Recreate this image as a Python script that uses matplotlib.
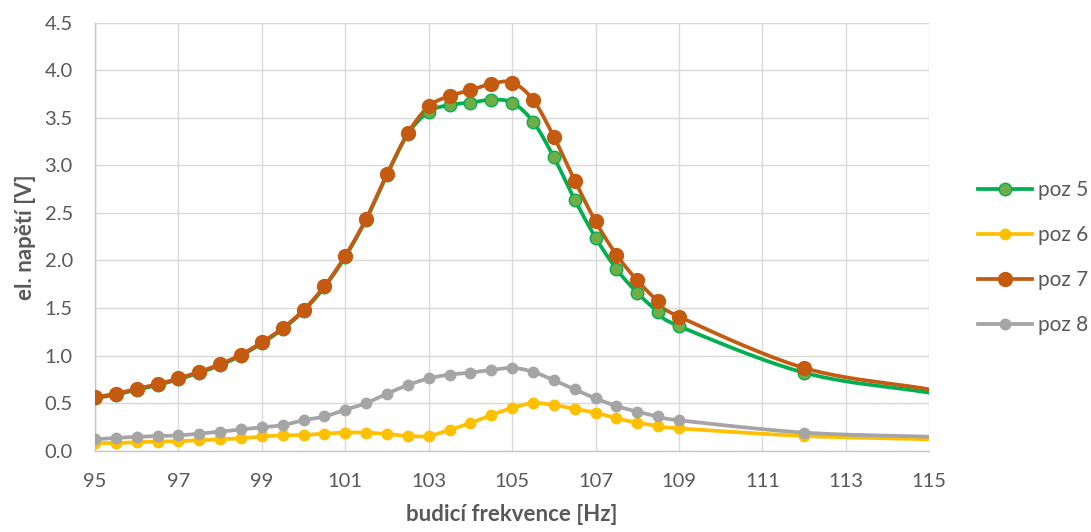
import numpy as np
import matplotlib
matplotlib.use("Agg")
import matplotlib.pyplot as plt

# budici frekvence [Hz]; last point (115) only carries the line to the edge
freq = [95, 95.5, 96, 96.5, 97, 97.5, 98, 98.5, 99, 99.5, 100, 100.5, 101,
        101.5, 102, 102.5, 103, 103.5, 104, 104.5, 105, 105.5, 106, 106.5,
        107, 107.5, 108, 108.5, 109, 112, 115]

poz5 = [0.55, 0.59, 0.64, 0.69, 0.75, 0.82, 0.90, 1.00, 1.13, 1.28, 1.47,
        1.72, 2.04, 2.43, 2.90, 3.33, 3.565, 3.635, 3.66, 3.69, 3.66, 3.46,
        3.085, 2.64, 2.24, 1.91, 1.66, 1.46, 1.31, 0.82, 0.61]
poz6 = [0.08, 0.08, 0.09, 0.095, 0.10, 0.11, 0.12, 0.13, 0.15, 0.16, 0.165,
        0.18, 0.19, 0.19, 0.175, 0.155, 0.155, 0.22, 0.29, 0.375, 0.45, 0.50,
        0.48, 0.44, 0.40, 0.34, 0.295, 0.26, 0.235, 0.155, 0.12]
poz7 = [0.56, 0.60, 0.65, 0.70, 0.76, 0.83, 0.91, 1.01, 1.14, 1.29, 1.48,
        1.73, 2.05, 2.44, 2.91, 3.34, 3.62, 3.73, 3.79, 3.86, 3.87, 3.69,
        3.30, 2.84, 2.41, 2.06, 1.79, 1.57, 1.41, 0.87, 0.645]
poz8 = [0.12, 0.135, 0.145, 0.155, 0.16, 0.18, 0.20, 0.225, 0.245, 0.27, 0.32,
        0.36, 0.43, 0.50, 0.60, 0.69, 0.76, 0.80, 0.82, 0.85, 0.87, 0.83,
        0.74, 0.645, 0.55, 0.47, 0.41, 0.36, 0.32, 0.19, 0.147]

FONT = ["Lato", "DejaVu Sans"]
TXT = "#595959"


def smooth(x, y, n=20):
    # Catmull-Rom through the points, like Excel's smoothed line
    x = np.asarray(x, float)
    y = np.asarray(y, float)
    px = np.concatenate([[2 * x[0] - x[1]], x, [2 * x[-1] - x[-2]]])
    py = np.concatenate([[2 * y[0] - y[1]], y, [2 * y[-1] - y[-2]]])
    xs, ys = [], []
    t = np.linspace(0, 1, n, endpoint=False)
    for i in range(1, len(px) - 2):
        p0, p1, p2, p3 = px[i - 1], px[i], px[i + 1], px[i + 2]
        q0, q1, q2, q3 = py[i - 1], py[i], py[i + 1], py[i + 2]
        c1x, c1y = p1 + (p2 - p0) / 6, q1 + (q2 - q0) / 6
        c2x, c2y = p2 - (p3 - p1) / 6, q2 - (q3 - q1) / 6
        b0, b1, b2, b3 = (1 - t) ** 3, 3 * t * (1 - t) ** 2, 3 * t ** 2 * (1 - t), t ** 3
        xs.append(b0 * p1 + b1 * c1x + b2 * c2x + b3 * p2)
        ys.append(b0 * q1 + b1 * c1y + b2 * c2y + b3 * q2)
    xs.append([x[-1]])
    ys.append([y[-1]])
    return np.concatenate(xs), np.concatenate(ys)


fig = plt.figure(figsize=(10.91, 5.32), dpi=100)
ax = fig.add_axes([0.0871, 0.1528, 0.7647, 0.8045])

series = [
    ("poz 5", poz5, "#00b050", "#70ad47", 9),
    ("poz 6", poz6, "#ffc000", "#ffc000", 7.5),
    ("poz 7", poz7, "#c55a11", "#c55a11", 10),
    ("poz 8", poz8, "#a5a5a5", "#a5a5a5", 7.5),
]
handles = []
for name, vals, col, face, ms in series:
    sx, sy = smooth(freq, vals)
    ax.plot(sx, sy, color=col, lw=2.7, solid_capstyle="round", zorder=3)
    ax.plot(freq[:-1], vals[:-1], ls="none", marker="o", ms=ms,
            mfc=face, mec=col, mew=1.0, zorder=4)
    h, = ax.plot([], [], color=col, lw=2.7, marker="o", ms=ms, mfc=face,
                 mec=col, mew=1.0)
    handles.append(h)

ax.set_xlim(95, 115)
ax.set_ylim(0, 4.5)
ax.set_xticks(np.arange(95, 116, 2))
ax.set_yticks(np.arange(0, 4.51, 0.5))
ax.set_yticklabels([f"{v:.1f}" for v in np.arange(0, 4.51, 0.5)])
ax.grid(True, color="#d9d9d9", lw=1.0)
ax.set_axisbelow(True)
for s in ["top", "right"]:
    ax.spines[s].set_visible(False)
for s in ["left", "bottom"]:
    ax.spines[s].set_color("#c8c8c8")
    ax.spines[s].set_linewidth(1.0)
ax.tick_params(length=0, labelsize=14.5, colors=TXT)
ax.tick_params(axis="y", pad=16)
ax.tick_params(axis="x", pad=16)
for lab in ax.get_xticklabels() + ax.get_yticklabels():
    lab.set_family(FONT)

ax.set_xlabel("budicí frekvence [Hz]", fontsize=16, fontweight="bold",
              color=TXT, family=FONT, labelpad=10)
ax.set_ylabel("el. napětí [V]", fontsize=16, fontweight="bold",
              color=TXT, family=FONT, labelpad=6)

leg = fig.legend(handles, [s[0] for s in series], loc="upper left",
                 bbox_to_anchor=(0.896, 0.662), frameon=False,
                 prop={"family": FONT, "size": 15}, labelspacing=1.2,
                 handlelength=2.6, handletextpad=0.3, borderpad=0,
                 borderaxespad=0)
for t in leg.get_texts():
    t.set_color(TXT)

fig.savefig("out.png", dpi=100)
